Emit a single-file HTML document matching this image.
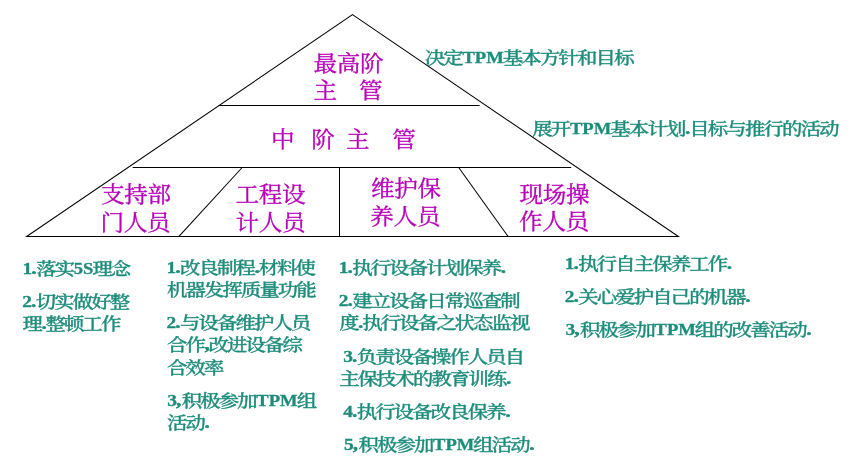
<!DOCTYPE html>
<html lang="zh-CN">
<head>
<meta charset="utf-8">
<title>TPM 组织职责</title>
<style>
html,body{margin:0;padding:0;background:#fff;}
body{width:852px;height:461px;overflow:hidden;position:relative;}
svg{position:absolute;left:0;top:0;display:block;will-change:transform;}
text{font-family:"Liberation Serif","Noto Serif CJK SC",serif;white-space:pre;}
.h text{fill:#b800b8;font-size:22.1px;font-weight:400;letter-spacing:-0.32px;stroke:#b800b8;stroke-width:0.35px;}
.t text{fill:#1d8c7b;}
.t .c{font-size:17.3px;font-weight:500;letter-spacing:-1.62px;stroke:#1d8c7b;stroke-width:0.33px;}
.t .l{font-size:17.2px;font-weight:700;stroke:#1d8c7b;stroke-width:0.3px;}
.t .u{font-size:17.2px;}
.t .p{stroke-width:0.7px;}
.ln{stroke:#000;stroke-width:1.05;fill:none;stroke-linejoin:miter;}
</style>
</head>
<body>
<svg width="852" height="461" viewBox="0 0 852 461">
<g class="ln">
<polygon points="352.5,14.6 678.4,236.5 26.6,236.5"/>
<line x1="218.6" y1="105.5" x2="479.6" y2="105.5"/>
<line x1="132.7" y1="167.5" x2="571.2" y2="167.5"/>
<line x1="339.5" y1="167.5" x2="339.5" y2="236.5"/>
<line x1="242.2" y1="167.5" x2="179.2" y2="236.2"/>
<line x1="458.7" y1="167.5" x2="507.9" y2="236.2"/>
</g>
<g class="h">
<text transform="translate(313.5,70.8) scale(1.07,1)">最高阶</text>
<text transform="translate(313.5,98.4) scale(1.07,1)" x="0 21.78 42.52">主 管</text>
<text transform="translate(271,146.8) scale(1.07,1)" x="0 21.78 37.66 59.44 70.09 91.87 113.36">中 阶 主 管</text>
<text transform="translate(101,201.6) scale(1.07,1)">支持部</text>
<text transform="translate(100.5,229.6) scale(1.07,1)">门人员</text>
<text transform="translate(235.5,201.6) scale(1.07,1)">工程设</text>
<text transform="translate(235.5,229.6) scale(1.07,1)">计人员</text>
<text transform="translate(371,196.1) scale(1.07,1)">维护保</text>
<text transform="translate(370.3,224.1) scale(1.07,1)">养人员</text>
<text transform="translate(519.5,201.6) scale(1.07,1)">现场操</text>
<text transform="translate(519,229.3) scale(1.07,1)">作人员</text>
</g>
<g class="t">
<g><text class="c" style="letter-spacing:-1.54px" transform="translate(424.65,64.1) scale(1.18,1)">决定</text><text class="l u" transform="translate(462.45,63.1) scale(1.08,1)">TPM</text><text class="c" style="letter-spacing:-1.54px" transform="translate(502.72,64.1) scale(1.18,1)">基本方针和目标</text></g>
<g><text class="c" style="letter-spacing:-1.54px" transform="translate(532.15,135.1) scale(1.18,1)">展开</text><text class="l u" transform="translate(569.95,134.1) scale(1.08,1)">TPM</text><text class="c" style="letter-spacing:-1.54px" transform="translate(610.22,135.1) scale(1.18,1)">基本计划</text><text class="l p" transform="translate(685.32,134.1) scale(1.13,1)">.</text><text class="c" style="letter-spacing:-1.54px" transform="translate(689.16,135.1) scale(1.18,1)">目标与推行的活动</text></g>
<g><text class="l" transform="translate(22.55,273.9) scale(1.13,1)">1</text><text class="l p" transform="translate(31.62,273.9) scale(1.13,1)">.</text><text class="c" transform="translate(36.16,274.9) scale(1.18,1)">落实</text><text class="l u" transform="translate(73.76,273.9) scale(1.08,1)">5S</text><text class="c" transform="translate(92.38,274.9) scale(1.18,1)">理念</text></g>
<g><text class="l" transform="translate(22.25,306.7) scale(1.13,1)">2</text><text class="l p" transform="translate(31.32,306.7) scale(1.13,1)">.</text><text class="c" transform="translate(35.86,307.7) scale(1.18,1)">切实做好整</text></g>
<g><text class="c" transform="translate(22.45,329.7) scale(1.18,1)">理</text><text class="l p" transform="translate(41.65,328.7) scale(1.13,1)">.</text><text class="c" transform="translate(45.49,329.7) scale(1.18,1)">整顿工作</text></g>
<g><text class="l" transform="translate(166.45,273) scale(1.13,1)">1</text><text class="l p" transform="translate(175.52,273) scale(1.13,1)">.</text><text class="c" transform="translate(180.06,274) scale(1.18,1)">改良制程</text><text class="l p" transform="translate(254.76,273) scale(1.13,1)">.</text><text class="c" transform="translate(258.6,274) scale(1.18,1)">材料使</text></g>
<g><text class="c" transform="translate(166.95,296.1) scale(1.18,1)">机器发挥质量功能</text></g>
<g><text class="l" transform="translate(166.45,328.4) scale(1.13,1)">2</text><text class="l p" transform="translate(175.52,328.4) scale(1.13,1)">.</text><text class="c" transform="translate(180.06,329.4) scale(1.18,1)">与设备维护人员</text></g>
<g><text class="c" transform="translate(166.95,351.4) scale(1.18,1)">合作</text><text class="l p" transform="translate(204.65,350.4) scale(1.13,1)">,</text><text class="c" transform="translate(208.49,351.4) scale(1.18,1)">改进设备综</text></g>
<g><text class="c" transform="translate(166.95,374.4) scale(1.18,1)">合效率</text></g>
<g><text class="l" transform="translate(167.25,406.1) scale(1.13,1)">3</text><text class="l p" transform="translate(176.32,406.1) scale(1.13,1)">,</text><text class="c" transform="translate(181.76,407.1) scale(1.18,1)">积极参加</text><text class="l u" transform="translate(256.36,406.1) scale(1.08,1)">TPM</text><text class="c" transform="translate(296.63,407.1) scale(1.18,1)">组</text></g>
<g><text class="c" transform="translate(166.95,428.5) scale(1.18,1)">活动</text><text class="l p" transform="translate(204.65,427.5) scale(1.13,1)">.</text></g>
<g><text class="l" transform="translate(338.65,273.4) scale(1.13,1)">1</text><text class="l p" transform="translate(347.72,273.4) scale(1.13,1)">.</text><text class="c" transform="translate(352.26,274.4) scale(1.18,1)">执行设备计划保养</text><text class="l p" transform="translate(500.96,273.4) scale(1.13,1)">.</text></g>
<g><text class="l" transform="translate(338.65,305.8) scale(1.13,1)">2</text><text class="l p" transform="translate(347.72,305.8) scale(1.13,1)">.</text><text class="c" transform="translate(352.26,306.8) scale(1.18,1)">建立设备日常巡查制</text></g>
<g><text class="c" transform="translate(339.15,329.3) scale(1.18,1)">度</text><text class="l p" transform="translate(358.35,328.3) scale(1.13,1)">.</text><text class="c" transform="translate(362.19,329.3) scale(1.18,1)">执行设备之状态监视</text></g>
<g><text class="l" transform="translate(343.15,361.6) scale(1.13,1)">3</text><text class="l p" transform="translate(352.22,361.6) scale(1.13,1)">.</text><text class="c" transform="translate(356.76,362.6) scale(1.18,1)">负责设备操作人员自</text></g>
<g><text class="c" transform="translate(339.15,384.9) scale(1.18,1)">主保技术的教育训练</text><text class="l p" transform="translate(506.35,383.9) scale(1.13,1)">.</text></g>
<g><text class="l" transform="translate(343.15,416.9) scale(1.13,1)">4</text><text class="l p" transform="translate(352.22,416.9) scale(1.13,1)">.</text><text class="c" transform="translate(356.76,417.9) scale(1.18,1)">执行设备改良保养</text><text class="l p" transform="translate(505.46,416.9) scale(1.13,1)">.</text></g>
<g><text class="l" transform="translate(343.95,449.6) scale(1.13,1)">5</text><text class="l p" transform="translate(353.02,449.6) scale(1.13,1)">,</text><text class="c" transform="translate(358.46,450.6) scale(1.18,1)">积极参加</text><text class="l u" transform="translate(433.06,449.6) scale(1.08,1)">TPM</text><text class="c" transform="translate(473.33,450.6) scale(1.18,1)">组活动</text><text class="l p" transform="translate(529.53,449.6) scale(1.13,1)">.</text></g>
<g><text class="l" transform="translate(564.65,269.1) scale(1.13,1)">1</text><text class="l p" transform="translate(573.72,269.1) scale(1.13,1)">.</text><text class="c" transform="translate(578.26,270.1) scale(1.18,1)">执行自主保养工作</text><text class="l p" transform="translate(726.96,269.1) scale(1.13,1)">.</text></g>
<g><text class="l" transform="translate(564.65,301.7) scale(1.13,1)">2</text><text class="l p" transform="translate(573.72,301.7) scale(1.13,1)">.</text><text class="c" transform="translate(578.26,302.7) scale(1.18,1)">关心爱护自己的机器</text><text class="l p" transform="translate(745.46,301.7) scale(1.13,1)">.</text></g>
<g><text class="l" transform="translate(565.45,334.7) scale(1.13,1)">3</text><text class="l p" transform="translate(574.52,334.7) scale(1.13,1)">,</text><text class="c" transform="translate(579.96,335.7) scale(1.18,1)">积极参加</text><text class="l u" transform="translate(654.56,334.7) scale(1.08,1)">TPM</text><text class="c" transform="translate(694.83,335.7) scale(1.18,1)">组的改善活动</text><text class="l p" transform="translate(806.53,334.7) scale(1.13,1)">.</text></g>
</g>
</svg>
</body>
</html>
